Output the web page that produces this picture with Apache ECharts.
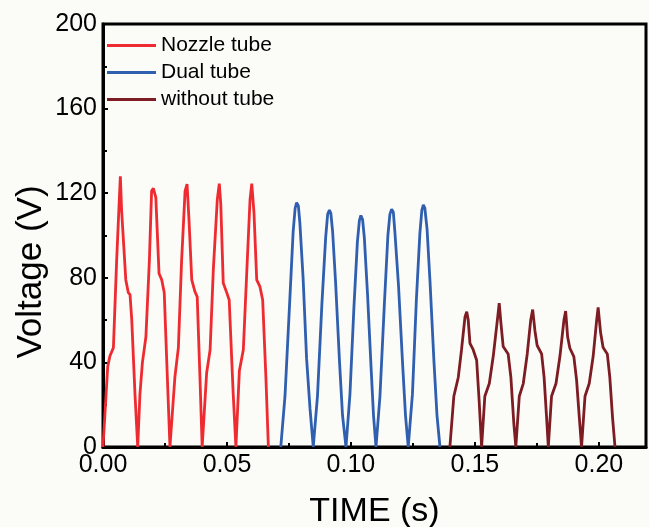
<!DOCTYPE html>
<html>
<head>
<meta charset="utf-8">
<script src="https://cdn.jsdelivr.net/npm/echarts@6/dist/echarts.min.js"></script>
<style>
html,body{margin:0;padding:0;background:#fbfbf8;}
#chart{width:649px;height:527px;}
</style>
</head>
<body>
<div id="chart"></div>
<script>
var seriesNames = ['Nozzle tube', 'Dual tube', 'without tube'];
var xTicks = [0.00, 0.05, 0.10, 0.15, 0.20];
var yTicks = [0, 40, 80, 120, 160, 200];

var nozzleTube = [
  [0.0000,0],[0.0019,38],[0.0028,43],[0.0042,47],[0.0055,88],[0.0065,115],[0.0070,128],[0.0075,112],[0.0092,79],[0.0102,73],[0.0109,72],[0.0116,60],[0.0129,25],[0.0140,0],
  [0.0149,25],[0.0159,40],[0.0173,52],[0.0187,88],[0.0196,121],[0.0203,122.3],[0.0213,118],[0.0226,82],[0.0237,79],[0.0247,73],[0.0257,41],[0.0263,22],[0.0270,0],
  [0.0290,33],[0.0304,47],[0.0317,88],[0.0331,121],[0.0339,124.3],[0.0347,107],[0.0358,79],[0.0371,73.4],[0.0380,71],[0.0391,33],[0.0400,0],
  [0.0418,35],[0.0432,46],[0.0445,84],[0.0461,117],[0.0469,124.5],[0.0475,115],[0.0485,77.5],[0.0499,73],[0.0509,69.5],[0.0525,25.5],[0.0536,0],
  [0.0550,36],[0.0566,46],[0.0579,80.5],[0.0593,117],[0.0600,124.5],[0.0609,110.6],[0.0620,79],[0.0633,75.8],[0.0644,69.5],[0.0657,33],[0.0667,0]
];

var dualTube = [
  [0.0717,0],[0.0734,24],[0.0754,71],[0.0767,102],[0.0775,113],[0.0781,115.5],[0.0788,114],[0.0794,106],[0.0807,80],[0.0821,42],[0.0835,18],[0.0848,0],
  [0.0865,24],[0.0883,68],[0.0898,99],[0.0906,110],[0.0913,112],[0.0919,110.5],[0.0926,102],[0.0938,78],[0.0954,40],[0.0966,15],[0.0980,0],
  [0.0996,25],[0.1012,66],[0.1026,97],[0.1034,107],[0.1040,109.5],[0.1047,107.5],[0.1054,99],[0.1067,72],[0.1081,38],[0.1091,15],[0.1101,0],
  [0.1117,24],[0.1135,68],[0.1149,100],[0.1157,110],[0.1164,112.5],[0.1171,111],[0.1177,102],[0.1192,76],[0.1208,40],[0.1220,15],[0.1231,0],
  [0.1248,25],[0.1264,70],[0.1278,101],[0.1286,112],[0.1292,114.5],[0.1298,113],[0.1307,103],[0.1319,78],[0.1335,40],[0.1347,15],[0.1359,0]
];

var withoutTube = [
  [0.1399,0],[0.1415,24],[0.1433,33],[0.1446,46],[0.1460,61.5],[0.1467,64],[0.1473,60],[0.1480,49],[0.1493,46],[0.1507,41],[0.1517,22],[0.1527,0],
  [0.1540,24],[0.1558,30],[0.1574,43],[0.1592,61.5],[0.1598,68],[0.1605,58.5],[0.1614,47.5],[0.1634,44],[0.1645,33],[0.1657,11],[0.1665,0],
  [0.1679,24],[0.1695,30],[0.1711,44],[0.1725,60],[0.1733,65],[0.1742,55],[0.1751,48],[0.1769,44],[0.1779,33],[0.1789,14],[0.1796,0],
  [0.1809,24],[0.1827,30],[0.1843,43],[0.1859,60],[0.1866,64.3],[0.1874,52],[0.1883,46.7],[0.1899,42.7],[0.1910,31.7],[0.1921,14],[0.1930,0],
  [0.1944,24],[0.1961,30],[0.1977,43],[0.1991,60],[0.1997,66],[0.2007,54],[0.2017,47],[0.2034,44],[0.2044,33],[0.2055,14],[0.2065,0]
];

var colors = ['#ee2b30', '#2f5fae', '#7d1c22'];
var font = '"Liberation Sans", Arial, sans-serif';

var chart = echarts.init(document.getElementById('chart'), null, {renderer: 'canvas'});
var dataSets = [nozzleTube, dualTube, withoutTube];

chart.setOption({
  backgroundColor: '#fbfbf8',
  animation: false,
  grid: {
    left: 103, right: 3, top: 24, bottom: 80,
    show: true, borderColor: '#000', borderWidth: 3, backgroundColor: 'transparent'
  },
  legend: {
    orient: 'vertical',
    left: 107, top: 35, padding: 0,
    icon: 'rect',
    itemWidth: 49, itemHeight: 3, itemGap: 6,
    textStyle: {fontFamily: font, fontSize: 21, color: '#000', lineHeight: 21},
    data: seriesNames
  },
  xAxis: {
    type: 'value',
    min: xTicks[0], max: 0.219, interval: 0.05,
    axisLine: {show: true, lineStyle: {color: '#000', width: 3}},
    axisTick: {show: true, inside: true, length: 5, lineStyle: {color: '#000', width: 2}},
    minorTick: {show: true, splitNumber: 2, length: 4, lineStyle: {color: '#000', width: 2}},
    splitLine: {show: false},
    axisLabel: {
      fontFamily: font, fontSize: 25, color: '#000', margin: 6, showMaxLabel: false,
      formatter: function (v) { return v.toFixed(2); }
    }
  },
  yAxis: {
    type: 'value',
    min: yTicks[0], max: yTicks[yTicks.length - 1], interval: 40,
    axisLine: {show: true, lineStyle: {color: '#000', width: 3}},
    axisTick: {show: true, inside: true, length: 5, lineStyle: {color: '#000', width: 2}},
    minorTick: {show: true, splitNumber: 2, length: 4, lineStyle: {color: '#000', width: 2}},
    splitLine: {show: false},
    axisLabel: {fontFamily: font, fontSize: 25, color: '#000', margin: 6}
  },
  graphic: [
    {
      type: 'text', x: 374.5, y: 512,
      style: {text: 'TIME (s)', font: '34px ' + font, fill: '#000', align: 'center', verticalAlign: 'middle'}
    },
    {
      type: 'text', x: 31, y: 272, rotation: Math.PI / 2,
      style: {text: 'Voltage (V)', font: '35px ' + font, fill: '#000', align: 'center', verticalAlign: 'middle'}
    }
  ],
  series: dataSets.map(function (d, i) {
    return {
      name: seriesNames[i], type: 'line', data: d, symbol: 'none',
      lineStyle: {color: colors[i], width: 2.8}, itemStyle: {color: colors[i]},
      clip: true
    };
  })
});
</script>
</body>
</html>
